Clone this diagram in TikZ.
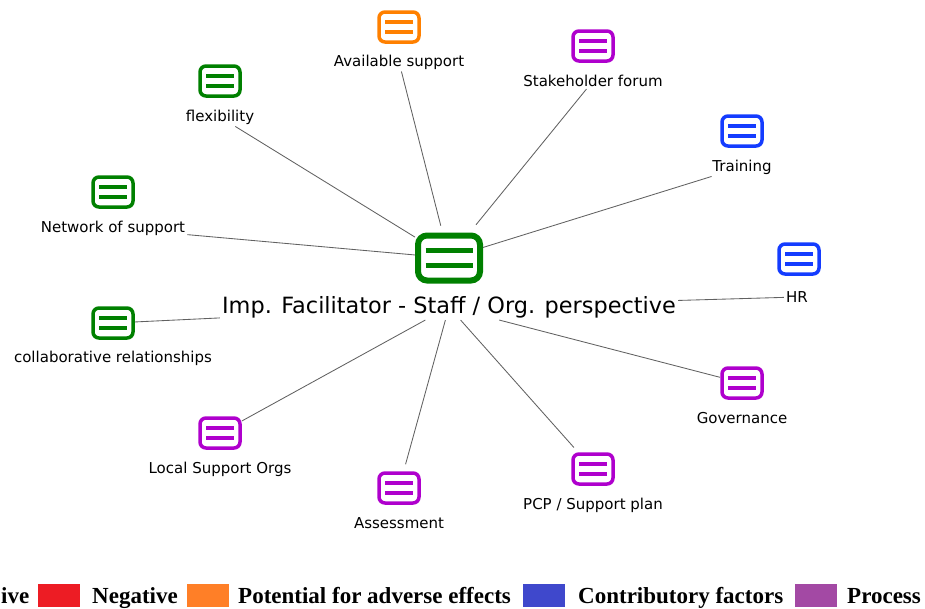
\documentclass[tikz,border=0pt]{standalone}
\usepackage{fontspec}
\setmainfont{DejaVu Sans}
\newfontfamily\legendfont{Liberation Serif}
\usepackage{tikz}
\definecolor{sgreen}{RGB}{0,128,0}
\definecolor{sorange}{RGB}{255,128,0}
\definecolor{sblue}{RGB}{20,60,255}
\definecolor{spurple}{RGB}{175,0,205}
\definecolor{lred}{RGB}{237,28,36}
\definecolor{lorange}{RGB}{255,127,39}
\definecolor{lblue}{RGB}{63,72,204}
\definecolor{lpurple}{RGB}{163,73,164}
\newcommand\lgd[1]{{\legendfont\bfseries #1}}
\tikzset{
  card/.style = {draw = #1, line width = 3.5pt, rounded corners = 6pt,
    minimum width = 40pt, minimum height = 30pt, inner sep = 0pt, outer sep = 2pt,
    path picture = {\draw[#1, line width = 3.2pt, sharp corners]
      ([xshift = -14pt, yshift = 5pt]path picture bounding box.center) -- ++(28pt,0pt)
      ([xshift = -14pt, yshift = -5pt]path picture bounding box.center) -- ++(28pt,0pt);}},
  bigcard/.style = {draw = #1, line width = 6pt, rounded corners = 9pt,
    minimum width = 62pt, minimum height = 45pt, inner sep = 0pt, outer sep = 3pt,
    path picture = {\draw[#1, line width = 5pt, sharp corners]
      ([xshift = -23.5pt, yshift = 7.5pt]path picture bounding box.center) -- ++(47pt,0pt)
      ([xshift = -23.5pt, yshift = -7.5pt]path picture bounding box.center) -- ++(47pt,0pt);}},
  lbl/.style = {font = \fontsize{15}{17}\selectfont, inner sep = 2pt},
  edge/.style = {draw = black!62, line width = 0.85pt},
  swatch/.style = {fill = #1, minimum width = 42pt, minimum height = 23pt, inner sep = 0pt}
}

\begin{document}
\begin{tikzpicture}[x = 1pt, y = -1pt]
\useasboundingbox (0,0) rectangle (925,608);
% hub
\node[bigcard = sgreen] (hubI) at (449,258) {};
\node[font = \fontsize{22.4}{24}\selectfont, inner sep = 2pt] (hubT) at (449,307) {Imp. Facilitator - Staff / Org. perspective};
% upper ring
\node[card = sorange] (avlI) at (399,27) {};
\node[lbl] (avlT) at (399,62) {Available support};
\node[card = spurple] (stkI) at (593,46) {};
\node[lbl] (stkT) at (593,81) {Stakeholder forum};
\node[card = sgreen] (flxI) at (220,81) {};
\node[lbl] (flxT) at (220,117) {flexibility};
\node[card = sblue] (trnI) at (742,131) {};
\node[lbl] (trnT) at (742,167) {Training};
\node[card = sgreen] (netI) at (113,192) {};
\node[lbl] (netT) at (113,228) {Network of support};
\node[card = sblue] (hrI) at (799,259) {};
\node[lbl] (hrT) at (797,297) {HR};
% lower ring
\node[card = sgreen] (colI) at (113,323) {};
\node[lbl] (colT) at (113,358) {collaborative relationships};
\node[card = spurple] (govI) at (742,383) {};
\node[lbl] (govT) at (742,418) {Governance};
\node[card = spurple] (locI) at (220,433) {};
\node[lbl] (locT) at (220,469) {Local Support Orgs};
\node[card = spurple] (pcpI) at (593,469) {};
\node[lbl] (pcpT) at (593,505) {PCP / Support plan};
\node[card = spurple] (asmI) at (399,488) {};
\node[lbl] (asmT) at (399,523) {Assessment};
% links
\draw[edge, shorten <= 7pt] (hubI) -- (avlT);
\draw[edge, shorten <= 10pt] (hubI) -- (stkT);
\draw[edge] (hubI) -- (flxT);
\draw[edge] (hubI) -- (trnT);
\draw[edge] (hubI) -- (netT);
\draw[edge] (hubT) -- (hrT);
\draw[edge] (colI) -- (hubT);
\draw[edge] (hubT) -- (govI);
\draw[edge, shorten >= 6pt] (hubT) -- (pcpI);
\draw[edge, shorten >= 7pt] (hubT) -- (asmI);
\draw[edge] (hubT) -- (locI);
% legend
\node[anchor = base west, inner sep = 0pt, font = \fontsize{23}{25}\selectfont] (lgPos) at (1,603) {\lgd{ive}};
\node[swatch = lred, anchor = north west] (swRed) at (38,584) {};
\node[anchor = base west, inner sep = 0pt, font = \fontsize{23}{25}\selectfont] (lgNeg) at (92,603) {\lgd{Negative}};
\node[swatch = lorange, anchor = north west] (swOra) at (187,584) {};
\node[anchor = base west, inner sep = 0pt, font = \fontsize{23}{25}\selectfont] (lgAdv) at (238,603) {\lgd{Potential for adverse effects}};
\node[swatch = lblue, anchor = north west] (swBlu) at (523,584) {};
\node[anchor = base west, inner sep = 0pt, font = \fontsize{23}{25}\selectfont] (lgCon) at (578,603) {\lgd{Contributory factors}};
\node[swatch = lpurple, anchor = north west] (swPur) at (795,584) {};
\node[anchor = base west, inner sep = 0pt, font = \fontsize{23}{25}\selectfont] (lgPro) at (847,603) {\lgd{Process}};
\end{tikzpicture}
\end{document}
